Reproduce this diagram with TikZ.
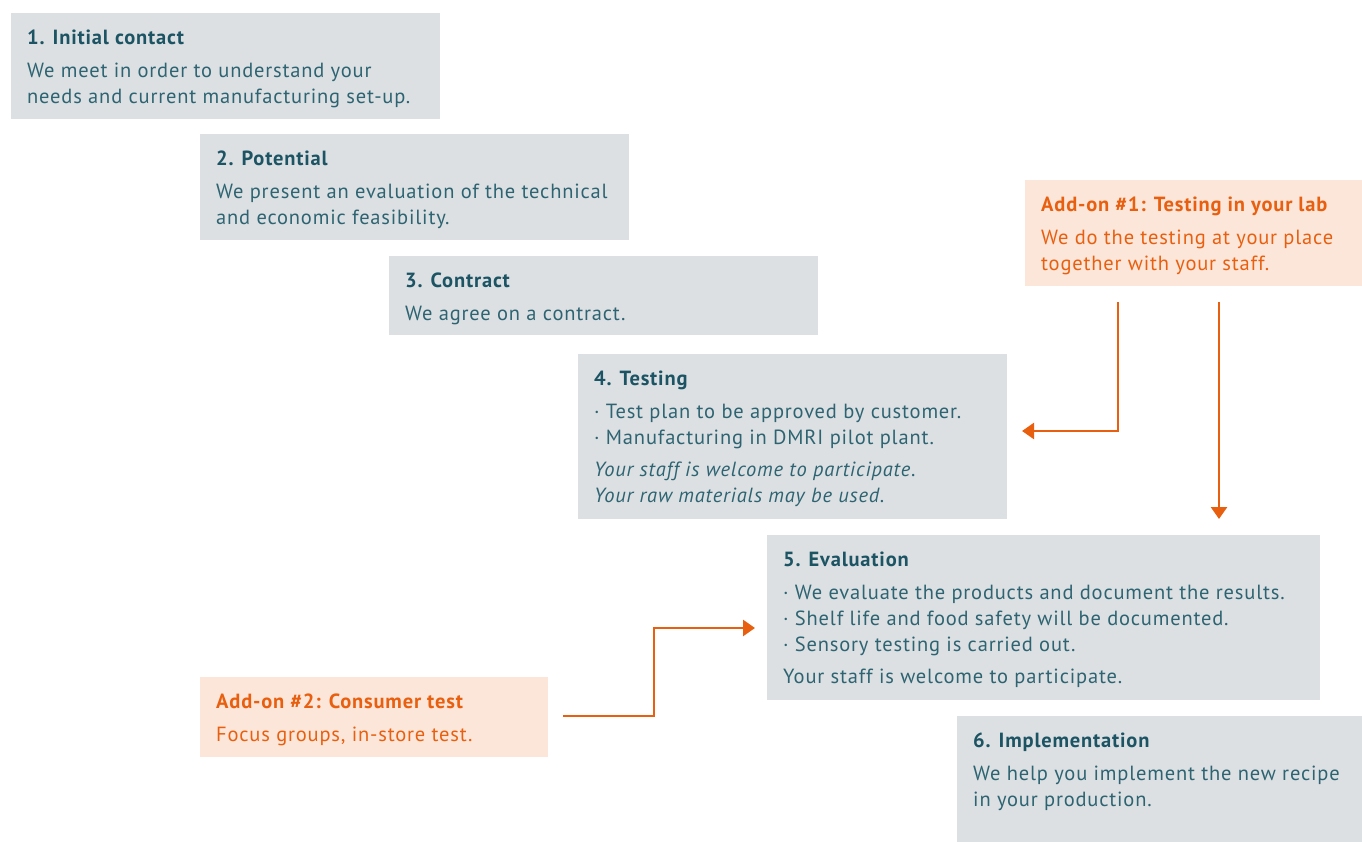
\documentclass[tikz,border=0pt]{standalone}
\usepackage{fontspec}
\setmainfont{PT Sans}[LetterSpace=4]
\usetikzlibrary{arrows.meta,calc}
\definecolor{boxgray}{HTML}{DCE0E3}
\definecolor{boxpeach}{HTML}{FCE6DA}
\definecolor{titleteal}{HTML}{1C5464}
\definecolor{bodyteal}{HTML}{2E6472}
\definecolor{orng}{HTML}{E8600F}
\tikzset{
  graybox/.style={fill=boxgray, draw=none, anchor=north west, inner sep=0pt},
  peachbox/.style={fill=boxpeach, draw=none, anchor=north west, inner sep=0pt},
  txt/.style={anchor=north west, inner sep=0pt, align=left, text=bodyteal, font=\fontsize{20.5}{26}\selectfont},
  otxt/.style={txt, text=orng},
  flow/.style={draw=orng, line width=2.6pt, -{Triangle[width=16pt,length=12pt]}}
}
\newcommand{\ttl}[1]{{\bfseries\color{titleteal}#1}}
\newcommand{\ottl}[1]{{\bfseries\color{orng}#1}}
\begin{document}
\begin{tikzpicture}[x=1pt,y=-1pt]
\useasboundingbox (0,0) rectangle (1362,842);
% boxes
\node[graybox, minimum width=429pt, minimum height=106pt] (b1) at (11,13) {};
\node[graybox, minimum width=429pt, minimum height=106pt] (b2) at (200,134) {};
\node[graybox, minimum width=429pt, minimum height=79pt] (b3) at (389,256) {};
\node[graybox, minimum width=429pt, minimum height=165pt] (b4) at (578,354) {};
\node[graybox, minimum width=553pt, minimum height=165pt] (b5) at (767,535) {};
\node[graybox, minimum width=405pt, minimum height=126pt] (b6) at (957,716) {};
\node[peachbox, minimum width=337pt, minimum height=106pt] (a1) at (1025,180) {};
\node[peachbox, minimum width=348pt, minimum height=80pt] (a2) at (200,677) {};
% texts
\node[txt] (t1) at ($(b1.north west)+(16,17)$) {\ttl{1. Initial contact}\\[7pt]We meet in order to understand your\\needs and current manufacturing set-up.};
\node[txt] (t2) at ($(b2.north west)+(16,17)$) {\ttl{2. Potential}\\[7pt]We present an evaluation of the technical\\and economic feasibility.};
\node[txt] (t3) at ($(b3.north west)+(16,17)$) {\ttl{3. Contract}\\[7pt]We agree on a contract.};
\node[txt] (t4) at ($(b4.north west)+(16,17)$) {\ttl{4. Testing}\\[7pt]· Test plan to be approved by customer.\\· Manufacturing in DMRI pilot plant.\\[6pt]\itshape Your staff is welcome to participate.\\\itshape Your raw materials may be used.};
\node[txt] (t5) at ($(b5.north west)+(16,17)$) {\ttl{5. Evaluation}\\[7pt]· We evaluate the products and document the results.\\· Shelf life and food safety will be documented.\\· Sensory testing is carried out.\\[6pt]Your staff is welcome to participate.};
\node[txt] (t6) at ($(b6.north west)+(16,17)$) {\ttl{6. Implementation}\\[7pt]We help you implement the new recipe\\in your production.};
\node[otxt] (ta1) at ($(a1.north west)+(16,17)$) {\ottl{Add-on \#1: Testing in your lab}\\[7pt]We do the testing at your place\\together with your staff.};
\node[otxt] (ta2) at ($(a2.north west)+(16,17)$) {\ottl{Add-on \#2: Consumer test}\\[7pt]Focus groups, in-store test.};
% connectors
\coordinate (s1) at (1118,302);
\coordinate (e1) at (1022,431);
\coordinate (s2) at (1219,302);
\coordinate (e2) at (1219,519);
\coordinate (s3) at (563,716);
\coordinate (e3) at (755,628);
\draw[flow] (s1) |- (e1);
\draw[flow] (s2) -- (e2);
\draw[flow] (s3) -- (654,716) |- (e3);
\end{tikzpicture}
\end{document}
